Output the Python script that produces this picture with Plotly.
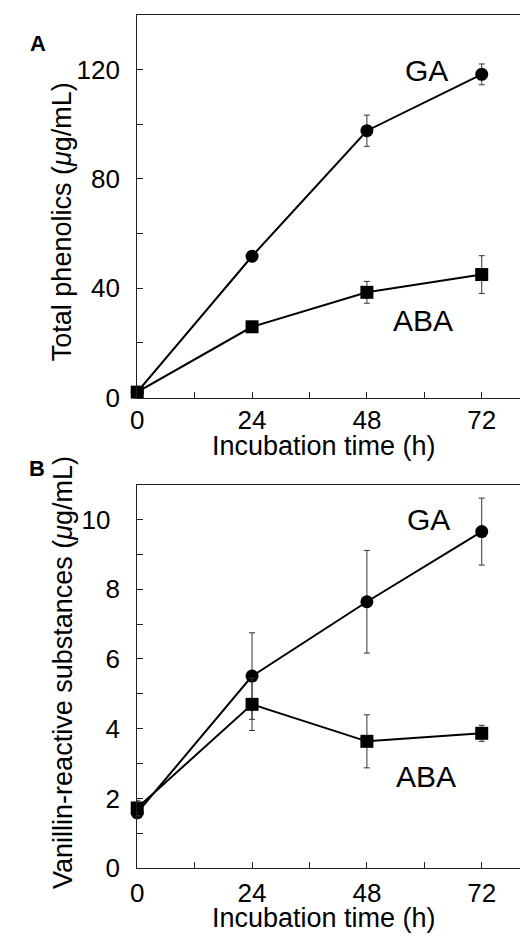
import plotly.graph_objects as go

time_h = [0, 24, 48, 72]

# Panel A: total phenolics (ug/mL)
phen_ga = [2.0, 51.7, 97.6, 118.2]
phen_ga_err = [0.5, 1.0, 5.7, 3.8]
phen_aba = [2.0, 25.9, 38.5, 45.0]
phen_aba_err = [0.5, 1.0, 4.0, 6.9]

# Panel B: vanillin-reactive substances (ug/mL)
van_ga = [1.59, 5.51, 7.64, 9.65]
van_ga_err = [0.1, 1.24, 1.47, 0.96]
van_aba = [1.73, 4.70, 3.64, 3.87]
van_aba_err = [0.22, 0.75, 0.76, 0.23]

x_tickvals = [0, 12, 24, 36, 48, 60, 72]
x_ticktext = ["0", "", "24", "", "48", "", "72"]
yA_tickvals = [0, 20, 40, 60, 80, 100, 120, 140]
yA_ticktext = ["0", "", "40", "", "80", "", "120", ""]
yB_tickvals = list(range(0, 12))
yB_ticktext = ["0", "", "2", "", "4", "", "6", "", "8", "", "10\u00a0\u200a", ""]

x_title = "Incubation time (h)"
yA_title = "Total phenolics (<i>μ</i>g/mL)"
yB_title = "Vanillin-reactive substances (<i>μ</i>g/mL)"

FONT = "Liberation Sans, Arial, Helvetica, sans-serif"
W, H = 520, 948

fig = go.Figure()

def add_series(x, y, err, symbol, xa, ya):
    fig.add_trace(go.Scatter(
        x=x, y=y, mode="lines+markers", xaxis=xa, yaxis=ya,
        line=dict(color="black", width=2),
        marker=dict(symbol=symbol, size=13, color="black"),
        error_y=dict(type="data", array=err, visible=True, color="#333333",
                     thickness=1, width=3),
        showlegend=False, cliponaxis=False,
    ))

add_series(time_h, phen_ga, phen_ga_err, "circle", "x", "y")
add_series(time_h, phen_aba, phen_aba_err, "square", "x", "y")
add_series(time_h, van_ga, van_ga_err, "circle", "x2", "y2")
add_series(time_h, van_aba, van_aba_err, "square", "x2", "y2")

xdom = [132 / W, 1.0]
yA_dom = [1 - 404 / H, 1 - 15 / H]
yB_dom = [1 - 882.3 / H, 1 - 492.3 / H]

tick_font = dict(family=FONT, size=26, color="black")
axis_common = dict(
    showline=True, linecolor="#222222", linewidth=1.2,
    ticks="inside", ticklen=6, tickwidth=1, tickcolor="#222222",
    showgrid=False, zeroline=False, tickfont=tick_font,
)

fig.update_layout(
    width=W, height=H,
    margin=dict(l=0, r=0, t=0, b=0),
    paper_bgcolor="white", plot_bgcolor="white",
    font=dict(family=FONT, color="black", size=26),
    xaxis=dict(domain=xdom, anchor="y", range=[0, 80], mirror=True,
               tickvals=x_tickvals, ticktext=x_ticktext,
               ticklabelstandoff=-1, **axis_common),
    yaxis=dict(domain=yA_dom, anchor="x", range=[0, 140],
               tickvals=yA_tickvals, ticktext=yA_ticktext,
               ticklabelstandoff=11, **axis_common),
    xaxis2=dict(domain=xdom, anchor="y2", range=[0, 80], mirror=True,
                tickvals=x_tickvals, ticktext=x_ticktext,
                ticklabelstandoff=1, **axis_common),
    yaxis2=dict(domain=yB_dom, anchor="x2", range=[0, 11],
                tickvals=yB_tickvals, ticktext=yB_ticktext,
                ticklabelstandoff=11, **axis_common),
)

title_font = dict(family=FONT, size=27, color="black")
fig.add_annotation(text=x_title, x=321 / W, y=1 - 453 / H, xref="paper", yref="paper",
                   showarrow=False, font=title_font, xanchor="center", yanchor="middle")
fig.add_annotation(text=x_title, x=321.5 / W, y=1 - 933 / H, xref="paper", yref="paper",
                   showarrow=False, font=title_font, xanchor="center", yanchor="middle")
fig.add_annotation(text=yA_title, x=56.5 / W, y=1 - 225 / H, xref="paper", yref="paper",
                   showarrow=False, font=title_font, textangle=-90,
                   xanchor="center", yanchor="middle")
fig.add_annotation(text=yB_title, x=56.5 / W, y=1 - 683 / H, xref="paper", yref="paper",
                   showarrow=False, font=title_font, textangle=-90,
                   xanchor="center", yanchor="middle")

ann_font = dict(family=FONT, size=30, color="black")
fig.add_annotation(text="GA", x=60.4, y=119.8, xref="x", yref="y", showarrow=False, font=ann_font)
fig.add_annotation(text="ABA", x=59.7, y=28.3, xref="x", yref="y", showarrow=False, font=ann_font)
fig.add_annotation(text="GA", x=60.9, y=10.0, xref="x2", yref="y2", showarrow=False, font=ann_font)
fig.add_annotation(text="ABA", x=60.4, y=2.62, xref="x2", yref="y2", showarrow=False, font=ann_font)

panel_font = dict(family=FONT, size=22, color="black")
fig.add_annotation(text="<b>A</b>", x=21 / W, y=1 - 29.5 / H, xref="paper", yref="paper",
                   showarrow=False, font=panel_font)
fig.add_annotation(text="<b>B</b>", x=20 / W, y=1 - 476.5 / H, xref="paper", yref="paper",
                   showarrow=False, font=panel_font)

fig.write_html("out.html")
